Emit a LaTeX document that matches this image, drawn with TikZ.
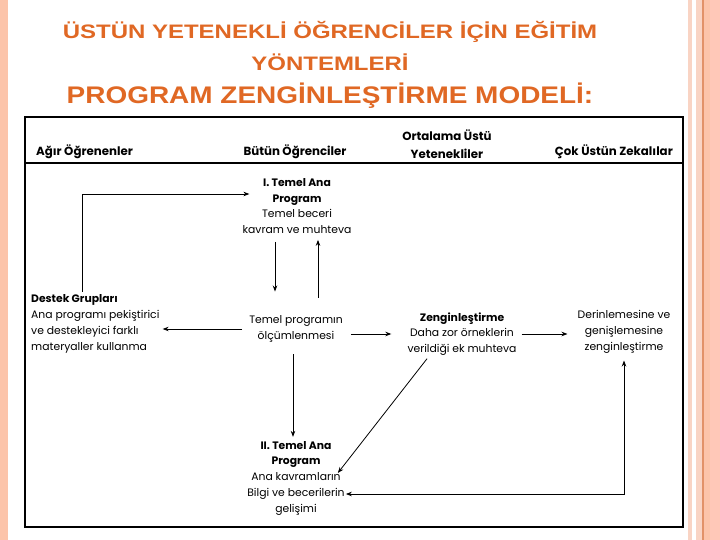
\documentclass[tikz,border=0pt]{standalone}
\usepackage{fontspec}
\setmainfont{Liberation Sans}
\newfontfamily\gothic{Poppins}
\newfontfamily\titlefont[FakeStretch=1.23]{Liberation Sans}
\newfontfamily\bigtitlefont[FakeStretch=1.165]{Liberation Sans}
\usetikzlibrary{arrows.meta,calc}
\definecolor{titleorange}{RGB}{224,104,36}
\definecolor{bandpale}{RGB}{249,212,196}
\definecolor{bandsalmon}{RGB}{252,196,170}
\definecolor{bandrose}{RGB}{255,200,184}
\definecolor{bandline}{RGB}{226,146,104}

\begin{document}
\begin{tikzpicture}[x=1pt,y=-1pt,>={Stealth[length=6pt,width=4.5pt]},
  every node/.style={inner sep=1pt},
  title/.style={text=titleorange,font=\titlefont\bfseries\fontsize{19.5}{22}\selectfont},
  head/.style={font=\gothic\bfseries\fontsize{11.8}{18}\selectfont},
  box/.style={align=center,font=\gothic\fontsize{10.8}{15.75}\selectfont},
  link/.style={->,line width=0.8pt}]
% page and side bands
\fill[white] (0,0) rectangle (720,540);
\useasboundingbox (0,0) rectangle (720,540);
\fill[bandsalmon] (0,0) rectangle (8,540);
\fill[bandpale] (688,0) rectangle (692,540);
\fill[bandpale] (696,0) rectangle (702,540);
\fill[bandline] (702,0) rectangle (703.5,540);
\fill[bandsalmon] (703.5,0) rectangle (710,540);
\fill[bandrose] (710,0) rectangle (720,540);

% title
\node[title] (t1) at (330,32) {ÜSTÜN YETENEKLİ ÖĞRENCİLER İÇİN EĞİTİM};
\node[title] (t2) at (330,62) {YÖNTEMLERİ};
\node[title,font=\bigtitlefont\bfseries\fontsize{24}{28}\selectfont] (t3) at (330,96) {PROGRAM ZENGİNLEŞTİRME MODELİ:};

% frame
\draw[line width=1.8pt] (25,117) rectangle (683,527);
\draw[line width=1.4pt] (25,163) -- (683,163);

% column heads
\node[head,anchor=west] (agir) at (35,152) {Ağır Öğrenenler};
\node[head] (butun) at (295,152) {Bütün Öğrenciler};
\node[head,align=center] (ortalama) at (447,144) {Ortalama Üstü\\Yetenekliler};
\node[head,anchor=east] (cok) at (674,152) {Çok Üstün Zekalılar};

% boxes
\node[box] (temel1) at (297,206) {\textbf{I. Temel Ana}\\\textbf{Program}\\Temel beceri\\kavram ve muhteva};
\node[box,align=left,anchor=west] (destek) at (30,324) {\textbf{Destek Grupları}\\Ana programı pekiştirici\\ve destekleyici farklı\\materyaller kullanma};
\node[box] (olcum) at (296,329) {Temel programın\\ölçümlenmesi};
\node[box] (zengin) at (462,334) {\textbf{Zenginleştirme}\\Daha zor örneklerin\\verildiği ek muhteva};
\node[box] (derin) at (624,332) {Derinlemesine ve\\genişlemesine\\zenginleştirme};
\node[box] (temel2) at (296,478) {\textbf{II. Temel Ana}\\\textbf{Program}\\Ana kavramların\\Bilgi ve becerilerin\\gelişimi};

% arrows
\draw[link,shorten <=2pt] ([xshift=52pt]destek.north west) |- ([xshift=8pt,yshift=12pt]temel1.west);
\draw[link,shorten <=7pt,shorten >=23pt] ([xshift=-22pt]temel1.south) -- ([xshift=-22pt]temel1.south |- olcum.north);
\draw[link,shorten <=17pt,shorten >=5pt] ([xshift=22pt]olcum.north) -- ([xshift=22pt]olcum.north |- temel1.south);
\draw[link,shorten <=6pt,shorten >=2pt] (olcum.west) -- (olcum.west -| destek.east);
\draw[link,shorten <=7pt,shorten >=15pt] (olcum.east |- zengin.west) -- (zengin.west);
\draw[link,shorten <=4pt,shorten >=9pt] (zengin.east) -- (zengin.east -| derin.west);
\draw[link,shorten <=11pt,shorten >=3pt] ([xshift=-3pt]olcum.south) -- ([xshift=-3pt]olcum.south |- temel2.north);
\draw[link] ($(zengin.south)+(-35,2)$) -- ($(temel2.east)+(-8,-5)$);
\draw[link,<->,shorten >=6pt] ([yshift=-16pt]temel2.east) -| (derin.south);
\end{tikzpicture}
\end{document}
